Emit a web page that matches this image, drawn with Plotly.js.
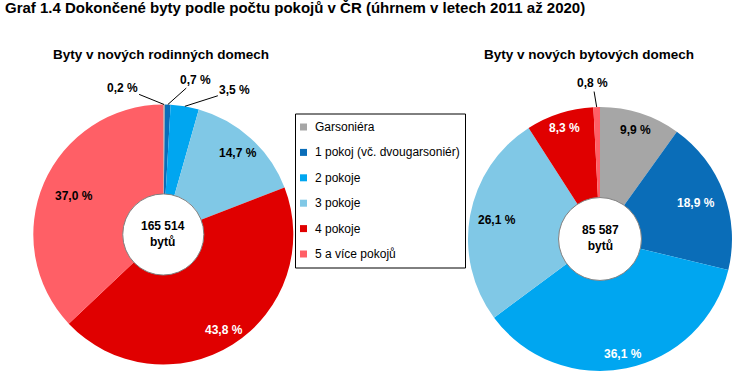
<!DOCTYPE html>
<html>
<head>
<meta charset="utf-8">
<script src="https://cdn.plot.ly/plotly-3.0.1.min.js"></script>
<style>html,body{margin:0;padding:0;background:#fff}#chart{width:754px;height:386px}</style>
</head>
<body>
<div id="chart"></div>
<script>
// ---- data ----
const categories = ['Garsoniéra', '1 pokoj (vč. dvougarsoniér)', '2 pokoje', '3 pokoje', '4 pokoje', '5 a více pokojů'];
const rodinneValues = [0.2, 0.7, 3.5, 14.7, 43.8, 37.0];
const bytoveValues = [9.9, 18.9, 36.1, 26.1, 8.3, 0.8];
const totals = [165514, 85587];
const pieTitles = ['Byty v nových rodinných domech', 'Byty v nových bytových domech'];
const mainTitle = 'Graf 1.4 Dokončené byty podle počtu pokojů v ČR (úhrnem v letech 2011 až 2020)';
const unitLabel = 'bytů';

// ---- style ----
const W = 754, H = 386;
const FONT = 'Liberation Sans, Arial, sans-serif';
const colors = ['#a6a6a6', '#0a6db8', '#00a6f0', '#80c8e6', '#e00000', '#ff5f66'];
const textColors = ['#000', '#fff', '#fff', '#000', '#fff', '#000'];
const pies = [
  { values: rodinneValues, cx: 163.3, cy: 234.5, r: 130, hole: 0.312, titleX: 161,
    labelR: [0, 0, 0, 0.85, 0.87, 0.75],
    outside: { 0: [-42, -17], 1: [28, -25], 2: [50, -16] } },
  { values: bytoveValues, cx: 600, cy: 239, r: 132, hole: 0.314, titleX: 589,
    labelR: [0.87, 0.78, 0.89, 0.79, 0.88, 0],
    outside: { 5: [-4, -24] } }
];
const px = v => v / W;
const py = v => 1 - v / H;
const fmtPct = v => v.toFixed(1).replace('.', ',') + ' %';
const fmtTotal = v => String(v).replace(/\B(?=(\d{3})+(?!\d))/g, ' ');

const traces = [];
const annotations = [];
const shapes = [];

pies.forEach((p, k) => {
  traces.push({
    type: 'pie', values: p.values, labels: categories, sort: false,
    direction: 'clockwise', rotation: 0, hole: p.hole,
    domain: { x: [px(p.cx - p.r), px(p.cx + p.r)], y: [py(p.cy + p.r), py(p.cy - p.r)] },
    marker: { colors: colors, line: { width: 0 } },
    textinfo: 'none', hoverinfo: 'none', showlegend: false
  });
  // hole outline
  const rh = p.r * p.hole;
  shapes.push({ type: 'circle', xref: 'paper', yref: 'paper',
    x0: px(p.cx - rh), x1: px(p.cx + rh), y0: py(p.cy + rh), y1: py(p.cy - rh),
    line: { color: '#808080', width: 1 }, fillcolor: 'rgba(0,0,0,0)' });
  // centre text
  annotations.push({ xref: 'paper', yref: 'paper', x: px(p.cx), y: py(p.cy - 1),
    xanchor: 'center', yanchor: 'middle',
    text: '<b>' + fmtTotal(totals[k]) + '<br>' + unitLabel + '</b>', showarrow: false,
    font: { family: FONT, size: 12, color: '#000' }, align: 'center' });
  // subtitle
  annotations.push({ xref: 'paper', yref: 'paper', x: px(p.titleX), y: py(54),
    xanchor: 'center', yanchor: 'middle',
    text: '<b>' + pieTitles[k] + '</b>', showarrow: false,
    font: { family: FONT, size: 13.5, color: '#000' } });
  // slice labels
  const sum = p.values.reduce((a, b) => a + b, 0);
  let cum = 0;
  p.values.forEach((v, i) => {
    const mid = (cum + v / 2) / sum * 2 * Math.PI;
    cum += v;
    const sx = Math.sin(mid), sy = -Math.cos(mid);
    if (p.outside[i]) {
      const [ax, ay] = p.outside[i];
      annotations.push({ xref: 'paper', yref: 'paper',
        x: px(p.cx + p.r * sx), y: py(p.cy + p.r * sy),
        ax: ax, ay: ay, showarrow: true, arrowhead: 0, arrowwidth: 1, arrowcolor: '#000',
        standoff: 0, text: '<b>' + fmtPct(v) + '</b>',
        font: { family: FONT, size: 12, color: '#000' } });
    } else {
      const lr = p.r * p.labelR[i];
      annotations.push({ xref: 'paper', yref: 'paper',
        x: px(p.cx + lr * sx), y: py(p.cy + lr * sy), showarrow: false,
        xanchor: 'center', yanchor: 'middle',
        text: '<b>' + fmtPct(v) + '</b>',
        font: { family: FONT, size: 12, color: textColors[i] } });
    }
  });
});

// legend (custom box)
const lg = { x0: 295.5, y0: 114, x1: 465.5, y1: 268, firstRow: 127, step: 25.4, sq: 7, sqX: 300, textX: 312.5 };
shapes.push({ type: 'rect', xref: 'paper', yref: 'paper', x0: px(lg.x0), x1: px(lg.x1), y0: py(lg.y1), y1: py(lg.y0),
  line: { color: '#000', width: 1 }, fillcolor: '#fff', layer: 'below' });
categories.forEach((c, i) => {
  const yc = lg.firstRow + i * lg.step;
  shapes.push({ type: 'rect', xref: 'paper', yref: 'paper',
    x0: px(lg.sqX), x1: px(lg.sqX + lg.sq), y0: py(yc + lg.sq / 2), y1: py(yc - lg.sq / 2),
    line: { width: 0 }, fillcolor: colors[i] });
  annotations.push({ xref: 'paper', yref: 'paper', x: px(lg.textX), y: py(yc), xanchor: 'left', yanchor: 'middle',
    text: c, showarrow: false, font: { family: FONT, size: 12, color: '#000' } });
});

const layout = {
  width: W, height: H,
  margin: { l: 0, r: 0, t: 0, b: 0 },
  paper_bgcolor: '#fff', plot_bgcolor: '#fff',
  title: { text: '<b>' + mainTitle + '</b>', x: px(5), xanchor: 'left', xref: 'paper',
    y: py(2), yanchor: 'top', yref: 'container', font: { family: FONT, size: 15, color: '#000' } },
  showlegend: false,
  annotations: annotations,
  shapes: shapes
};
Plotly.newPlot('chart', traces, layout, { displayModeBar: false, staticPlot: true });
</script>
</body>
</html>
